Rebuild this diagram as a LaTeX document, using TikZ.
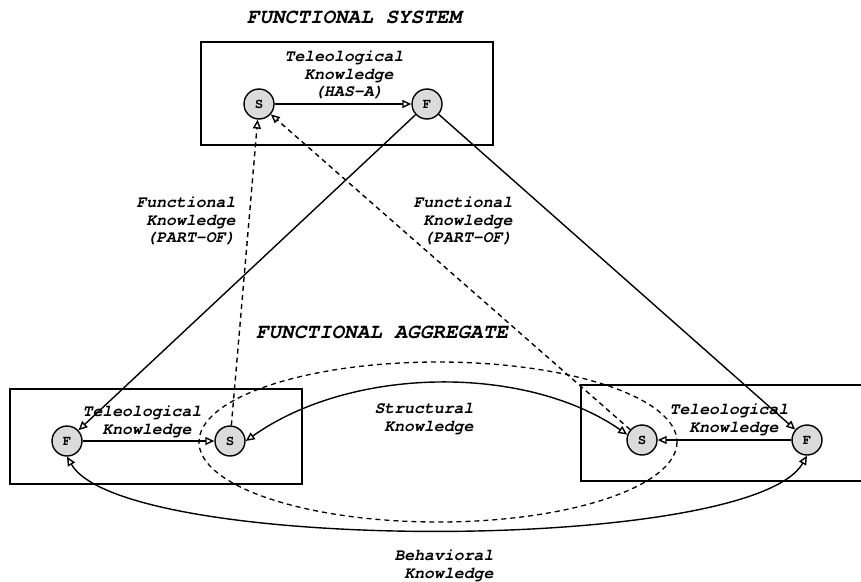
\documentclass[tikz,border=0pt]{standalone}
\usepackage{fontspec}
\newfontfamily\cour{texgyrecursor}[Extension=.otf, UprightFont=*-regular, BoldFont=*-bold,
  ItalicFont=*-italic, BoldItalicFont=*-bolditalic]
\usetikzlibrary{arrows.meta}

\tikzset{
  opentip/.tip={Triangle[open,fill=white,length=9pt,width=8pt]},
  base/.style={line width=1.4pt},
  tip/.style={-opentip},
  bothtips/.style={opentip-opentip},
  dashline/.style={dash pattern=on 5pt off 4pt},
  ent/.style={circle, draw, line width=1.4pt, fill=gray!28, minimum size=30pt, inner sep=0pt,
              font=\cour\bfseries\fontsize{14}{14}\selectfont},
  lbl/.style={align=center, inner sep=0pt, font=\cour\bfseries\itshape\fontsize{16.5}{17.5}\selectfont},
  ttl/.style={inner sep=0pt, font=\cour\bfseries\itshape\fontsize{21}{21}\selectfont},
  frame/.style={draw, line width=1.8pt}
}

\begin{document}
\begin{tikzpicture}[x=1pt, y=-1pt]
  \clip (0,0) rectangle (861,581);
  \fill[white] (0,0) rectangle (861,581);

  % group frames and the aggregate ellipse
  \draw[frame] (201,42) rectangle (493,145);
  \draw[frame] (10,389) rectangle (302,484);
  \draw[frame] (581,385) rectangle (866,481);
  \draw[line width=1.3pt, dashline] (438,442) ellipse [x radius=239, y radius=80];

  % titles
  \node[ttl] (tsys) at (354,17) {FUNCTIONAL SYSTEM};
  \node[ttl] (tagg) at (382,332) {FUNCTIONAL AGGREGATE};

  % structure / function entities
  \node[ent] (S0) at (259,104) {S};
  \node[ent] (F0) at (427,104) {F};
  \node[ent] (F1) at (67,441) {F};
  \node[ent] (S1) at (230,441) {S};
  \node[ent] (S2) at (642,440) {S};
  \node[ent] (F2) at (807,440) {F};

  % knowledge labels
  \node[lbl] (hasa) at (344,75) {Teleological\\\hphantom{x}Knowledge\\\hphantom{x}(HAS-A)};
  \node[lbl] (tel1) at (142,422) {Teleological\\\hphantom{x}Knowledge};
  \node[lbl] (tel2) at (729,420) {Teleological\\\hphantom{x}Knowledge};
  \node[lbl] (str) at (424,419) {Structural\\\hphantom{x}Knowledge};
  \node[lbl] (beh) at (444,566) {Behavioral\\\hphantom{x}Knowledge};
  \node[lbl] (po1) at (186,221) {Functional\\\hphantom{x}Knowledge\\\hphantom{x}(PART-OF)};
  \node[lbl] (po2) at (463,221) {Functional\\\hphantom{x}Knowledge\\\hphantom{x}(PART-OF)};

  % teleological links
  \draw[base, tip] (S0) -- (F0);
  \draw[base, tip] (F1) -- (S1);
  \draw[base, tip] (F2) -- (S2);

  % functional decomposition
  \draw[base, tip] (F0) -- (F1);
  \draw[base, tip] (F0) -- (F2);
  \draw[base, dashline, tip] (S1) -- (S0);
  \draw[base, dashline, tip] (S2) -- (S0);

  % structural and behavioral links
  \draw[base, bothtips] (S1.east) .. controls (353,365) and (527,365) .. (S2.160);
  \draw[base, bothtips] (F1.south) .. controls (123,554) and (751,554) .. (F2.south);
\end{tikzpicture}
\end{document}
